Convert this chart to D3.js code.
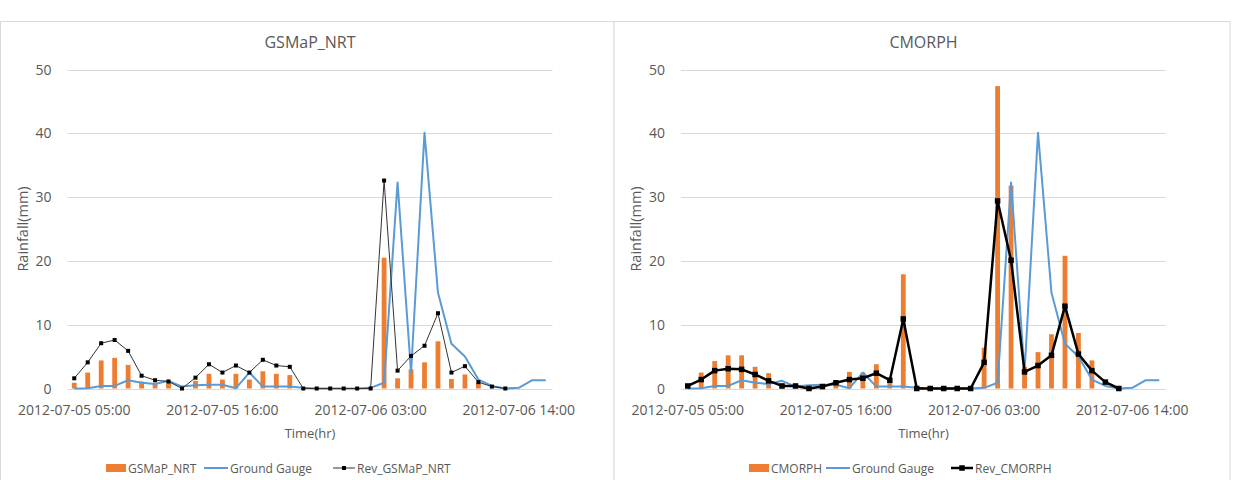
<!DOCTYPE html>
<html>
<head>
<meta charset="utf-8">
<script src="https://cdn.jsdelivr.net/npm/d3@7"></script>
<style>
  body { margin: 0; background: #fff; }
  text { font-family: "Open Sans", sans-serif; fill: #595959; }
</style>
</head>
<body>
<div id="chart"></div>
<script>
// ---------- data ----------
const hours = [
  '2012-07-05 05:00','2012-07-05 06:00','2012-07-05 07:00','2012-07-05 08:00','2012-07-05 09:00','2012-07-05 10:00',
  '2012-07-05 11:00','2012-07-05 12:00','2012-07-05 13:00','2012-07-05 14:00','2012-07-05 15:00','2012-07-05 16:00',
  '2012-07-05 17:00','2012-07-05 18:00','2012-07-05 19:00','2012-07-05 20:00','2012-07-05 21:00','2012-07-05 22:00',
  '2012-07-05 23:00','2012-07-06 00:00','2012-07-06 01:00','2012-07-06 02:00','2012-07-06 03:00','2012-07-06 04:00',
  '2012-07-06 05:00','2012-07-06 06:00','2012-07-06 07:00','2012-07-06 08:00','2012-07-06 09:00','2012-07-06 10:00',
  '2012-07-06 11:00','2012-07-06 12:00','2012-07-06 13:00','2012-07-06 14:00','2012-07-06 15:00','2012-07-06 16:00'
];
const tickLabels = ['2012-07-05 05:00', '2012-07-05 16:00', '2012-07-06 03:00', '2012-07-06 14:00'];
const yTicks = [0, 10, 20, 30, 40, 50];

const gauge = [0, 0.05, 0.4, 0.4, 1.3, 0.9, 0.7, 1.2, 0.3, 0.5, 0.6, 0.6, 0.05, 2.5, 0.3, 0.3, 0.3, 0.1,
  0, 0, 0, 0, 0.1, 0.9, 32.3, 2.5, 40.1, 15, 7, 5, 1.4, 0.4, 0, 0.1, 1.3, 1.3];

const gsmap = [0.9, 2.5, 4.4, 4.8, 3.7, 1.1, 0.9, 1.0, 0, 1.2, 2.3, 1.4, 2.3, 1.4, 2.7, 2.3, 2.1, 0,
  0, 0, 0, 0, 0, 20.5, 1.6, 3.0, 4.1, 7.4, 1.5, 2.2, 0.8, 0, 0, null, null, null];
const revGsmap = [1.6, 4.1, 7.1, 7.6, 5.9, 2.0, 1.3, 1.1, 0, 1.7, 3.8, 2.5, 3.6, 2.5, 4.5, 3.6, 3.4, 0,
  0, 0, 0, 0, 0, 32.6, 2.8, 5.1, 6.7, 11.8, 2.5, 3.5, 1.0, 0.3, 0, null, null, null];

const cmorph = [0.5, 2.5, 4.3, 5.2, 5.2, 3.4, 2.4, 0.5, 0.2, 0, 0, 1.2, 2.6, 2.5, 3.8, 1.0, 17.9, 0,
  0, 0, 0, 0, 6.4, 47.4, 31.8, 3.4, 5.7, 8.5, 20.8, 8.7, 4.4, 0, 0, null, null, null];
const revCmorph = [0.4, 1.4, 2.8, 3.1, 3.0, 2.2, 1.2, 0.4, 0.4, 0, 0.3, 0.9, 1.4, 1.6, 2.4, 1.3, 10.9, 0,
  0, 0, 0, 0, 4.1, 29.4, 20.1, 2.6, 3.6, 5.2, 12.9, 5.4, 2.8, 1.0, 0, null, null, null];

// ---------- layout ----------
const W = 1236, H = 480;
const orange = '#ED7D31', blue = '#5B9BD5', grid = '#D9D9D9';

const svg = d3.select('#chart').append('svg')
  .attr('width', W).attr('height', H);

const panels = [
  { x0: 0.5, x1: 614, title: 'GSMaP_NRT', bars: gsmap, rev: revGsmap, revName: 'Rev_GSMaP_NRT',
    revWidth: 1, revColor: '#333', marker: 4, legendX: [106, 204, 333] },
  { x0: 614, x1: 1230, title: 'CMORPH', bars: cmorph, rev: revCmorph, revName: 'Rev_CMORPH',
    revWidth: 2.5, revColor: '#000', marker: 5.5, legendX: [749, 826, 951] }
];

panels.forEach(p => {
  const g = svg.append('g');
  const left = p.x0 + 67, right = left + 485;
  const top = 69.5, bottom = 388.5;

  // panel frame
  g.append('rect')
    .attr('x', p.x0).attr('y', 21.5)
    .attr('width', p.x1 - p.x0).attr('height', 470)
    .attr('fill', '#fff').attr('stroke', grid).attr('stroke-width', 1);

  const x = d3.scaleBand().domain(hours).range([left, right]).paddingInner(0);
  const y = d3.scaleLinear().domain([0, 50]).range([bottom, top]);
  const cx = d => x(d) + x.bandwidth() / 2;

  // gridlines
  g.append('g').selectAll('line').data(yTicks).join('line')
    .attr('x1', left).attr('x2', right)
    .attr('y1', d => Math.round(y(d)) + 0.5).attr('y2', d => Math.round(y(d)) + 0.5)
    .attr('stroke', grid).attr('stroke-width', 1);

  // y tick labels
  g.append('g').selectAll('text').data(yTicks).join('text')
    .attr('x', left - 16).attr('y', d => y(d) + 5)
    .attr('text-anchor', 'end').attr('font-size', 14)
    .text(d => d);

  // x tick labels
  g.append('g').selectAll('text').data(tickLabels).join('text')
    .attr('x', d => cx(d)).attr('y', 415)
    .attr('text-anchor', 'middle').attr('font-size', 14)
    .text(d => d);

  // title + axis titles
  g.append('text').attr('x', (left + right) / 2).attr('y', 48)
    .attr('text-anchor', 'middle').attr('font-size', 16).text(p.title);
  g.append('text').attr('x', (left + right) / 2).attr('y', 438)
    .attr('text-anchor', 'middle').attr('font-size', 13).text('Time(hr)');
  g.append('text')
    .attr('transform', `translate(${p.x0 + 27},${229}) rotate(-90)`)
    .attr('text-anchor', 'middle').attr('font-size', 14.5).text('Rainfall(mm)');

  // bars
  const bw = 4.8;
  g.append('g').selectAll('rect')
    .data(hours.map((h, i) => ({ h, v: p.bars[i] })).filter(d => d.v != null && d.v > 0))
    .join('rect')
    .attr('x', d => cx(d.h) - bw / 2).attr('width', bw)
    .attr('y', d => y(d.v)).attr('height', d => y(0) - y(d.v))
    .attr('fill', orange);

  // ground gauge line
  const gaugeLine = d3.line().x(d => cx(d.h)).y(d => y(d.v));
  g.append('path')
    .datum(hours.map((h, i) => ({ h, v: gauge[i] })))
    .attr('d', gaugeLine)
    .attr('fill', 'none').attr('stroke', blue).attr('stroke-width', 2)
    .attr('stroke-linejoin', 'round');

  // revised series line + markers
  const revData = hours.map((h, i) => ({ h, v: p.rev[i] })).filter(d => d.v != null);
  g.append('path')
    .datum(revData)
    .attr('d', gaugeLine)
    .attr('fill', 'none').attr('stroke', p.revColor).attr('stroke-width', p.revWidth)
    .attr('stroke-linejoin', 'round');
  g.append('g').selectAll('rect').data(revData).join('rect')
    .attr('x', d => cx(d.h) - p.marker / 2).attr('y', d => y(d.v) - p.marker / 2)
    .attr('width', p.marker).attr('height', p.marker)
    .attr('fill', '#000');

  // legend
  const ly = 468;
  const [lx1, lx2, lx3] = p.legendX;
  g.append('rect').attr('x', lx1).attr('y', ly - 4).attr('width', 20).attr('height', 8).attr('fill', orange);
  g.append('text').attr('x', lx1 + 22).attr('y', ly + 4.5).attr('font-size', 12).text(p.title);
  g.append('line').attr('x1', lx2).attr('x2', lx2 + 24).attr('y1', ly).attr('y2', ly)
    .attr('stroke', blue).attr('stroke-width', 2);
  g.append('text').attr('x', lx2 + 26).attr('y', ly + 4.5).attr('font-size', 12).text('Ground Gauge');
  g.append('line').attr('x1', lx3).attr('x2', lx3 + 22).attr('y1', ly).attr('y2', ly)
    .attr('stroke', p.revColor).attr('stroke-width', p.revWidth);
  g.append('rect').attr('x', lx3 + 11 - p.marker / 2).attr('y', ly - p.marker / 2)
    .attr('width', p.marker).attr('height', p.marker).attr('fill', '#000');
  g.append('text').attr('x', lx3 + 24).attr('y', ly + 4.5).attr('font-size', 12).text(p.revName);
});
</script>
</body>
</html>
